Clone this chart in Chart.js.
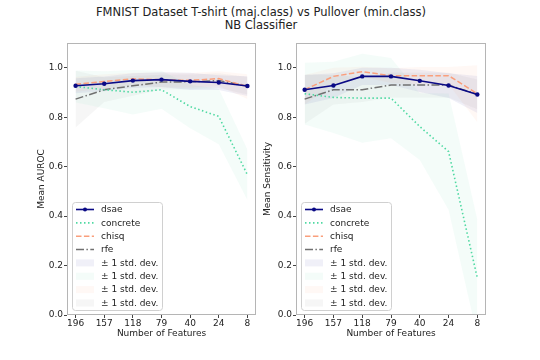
<!DOCTYPE html>
<html><head><meta charset="utf-8">
<script src="https://cdn.jsdelivr.net/npm/chart.js@4.4.1/dist/chart.umd.min.js"></script>
<style>
html,body{margin:0;padding:0;background:#fff;width:540px;height:360px;overflow:hidden;font-family:"DejaVu Sans",sans-serif;}
#title{position:absolute;left:0;top:6px;width:522px;text-align:center;font-size:11.5px;line-height:13px;color:#222;}
#w1{position:absolute;left:0;top:0;width:260px;height:360px;}
#w2{position:absolute;left:255px;top:0;width:285px;height:360px;}
canvas{display:block;}
</style></head><body>
<div id="title">FMNIST Dataset T-shirt (maj.class) vs Pullover (min.class)<br>NB Classifier</div>
<div id="w1"><canvas id="c1" width="260" height="360"></canvas></div>
<div id="w2"><canvas id="c2" width="285" height="360"></canvas></div>
<script>
// ---- data ----
const featureLabels = ['196','157','118','79','40','24','8'];
const yTickValues = [0.0, 0.2, 0.4, 0.6, 0.8, 1.0];
const seriesNames = ['dsae','concrete','chisq','rfe'];
const bandLabel = '\u00b1 1 std. dev.';

// Mean AUROC
const aurocDsae     = [0.927, 0.935, 0.948, 0.952, 0.945, 0.940, 0.926];
const aurocDsaeStd  = [0.030, 0.030, 0.030, 0.030, 0.035, 0.030, 0.040];
const aurocConcrete    = [0.924, 0.911, 0.901, 0.911, 0.843, 0.803, 0.567];
const aurocConcreteStd = [0.065, 0.075, 0.090, 0.077, 0.088, 0.112, 0.102];
const aurocChisq    = [0.933, 0.944, 0.955, 0.951, 0.949, 0.956, 0.924];
const aurocChisqStd = [0.030, 0.030, 0.025, 0.030, 0.030, 0.030, 0.050];
const aurocRfe      = [0.873, 0.911, 0.927, 0.942, 0.943, 0.948, 0.927];
const aurocRfeStd   = [0.115, 0.050, 0.040, 0.030, 0.030, 0.030, 0.035];

// Mean Sensitivity
const sensDsae     = [0.911, 0.928, 0.965, 0.965, 0.947, 0.928, 0.892];
const sensDsaeStd  = [0.060, 0.050, 0.035, 0.035, 0.045, 0.050, 0.075];
const sensConcrete    = [0.895, 0.880, 0.877, 0.877, 0.762, 0.661, 0.149];
const sensConcreteStd = [0.125, 0.144, 0.180, 0.162, 0.135, 0.235, 0.236];
const sensChisq    = [0.911, 0.965, 0.984, 0.968, 0.968, 0.968, 0.895];
const sensChisqStd = [0.060, 0.035, 0.020, 0.030, 0.035, 0.035, 0.115];
const sensRfe      = [0.873, 0.911, 0.911, 0.930, 0.930, 0.930, 0.892];
const sensRfeStd   = [0.100, 0.060, 0.050, 0.050, 0.050, 0.050, 0.060];

// ---- styles ----
const FONT = {family: '"DejaVu Sans", sans-serif', size: 9};
const TEXT = '#222';
const styles = [
  {line: '#0a0a85', band: 'rgba(40,40,150,0.07)', dash: [], width: 1.6, marker: 2.2},
  {line: '#4fd9a2', band: 'rgba(110,220,180,0.08)', dash: [1.5, 2.5], width: 1.6, marker: 0},
  {line: '#fa9f7c', band: 'rgba(255,160,122,0.08)', dash: [5.5, 2.4], width: 1.5, marker: 0},
  {line: '#707070', band: 'rgba(140,140,140,0.08)', dash: [8, 2.4, 1.5, 2.4], width: 1.5, marker: 0}
];

function buildDatasets(means, stds) {
  const ds = [];
  means.forEach((m, k) => {
    const s = stds[k];
    ds.push({label: bandLabel + 'u' + k, data: m.map((v, i) => ({x: i, y: v + s[i]})), fill: '+1',
      backgroundColor: styles[k].band, borderWidth: 0, pointRadius: 0, order: 10});
    ds.push({label: bandLabel + 'l' + k, data: m.map((v, i) => ({x: i, y: v - s[i]})), fill: false,
      borderWidth: 0, pointRadius: 0, order: 10});
  });
  means.forEach((m, k) => {
    ds.push({label: seriesNames[k], data: m.map((v, i) => ({x: i, y: v})), fill: false,
      borderColor: styles[k].line, borderWidth: styles[k].width, borderDash: styles[k].dash,
      borderCapStyle: 'butt', tension: 0,
      pointRadius: styles[k].marker, pointBackgroundColor: styles[k].line, pointBorderColor: styles[k].line,
      pointBorderWidth: 0, order: k === 0 ? 0 : 1});
  });
  return ds;
}

const framePlugin = {
  id: 'frameLegend',
  afterDraw(chart) {
    const ctx = chart.ctx, a = chart.chartArea;
    ctx.save();
    ctx.strokeStyle = '#b5b5b5'; ctx.lineWidth = 1;
    ctx.strokeRect(Math.round(a.left) + 0.5, Math.round(a.top) + 0.5,
      Math.round(a.right - a.left) - 1, Math.round(a.bottom - a.top) - 1);
    // legend
    const bw = 90, bh = 108;
    const bx = a.left + 5, by = a.bottom - 5 - bh;
    ctx.beginPath();
    if (ctx.roundRect) ctx.roundRect(bx + 0.5, by + 0.5, bw, bh, 3); else ctx.rect(bx + 0.5, by + 0.5, bw, bh);
    ctx.fillStyle = 'rgba(255,255,255,0.85)'; ctx.fill();
    ctx.strokeStyle = '#d0d0d0'; ctx.stroke();
    ctx.font = '9px "DejaVu Sans", sans-serif';
    ctx.textBaseline = 'middle'; ctx.textAlign = 'left';
    const rows = [];
    seriesNames.forEach((n, k) => rows.push({type: 'line', k, text: n}));
    seriesNames.forEach((n, k) => rows.push({type: 'band', k, text: bandLabel}));
    rows.forEach((r, i) => {
      const cy = by + 7.5 + i * 13.35;
      const st = styles[r.k];
      if (r.type === 'line') {
        ctx.save();
        ctx.strokeStyle = st.line; ctx.lineWidth = st.width; ctx.setLineDash(st.dash); ctx.lineCap = 'butt';
        ctx.beginPath(); ctx.moveTo(bx + 4, cy); ctx.lineTo(bx + 22, cy); ctx.stroke();
        ctx.restore();
        if (st.marker) {
          ctx.fillStyle = st.line; ctx.beginPath(); ctx.arc(bx + 13, cy, 2, 0, Math.PI * 2); ctx.fill();
        }
      } else {
        ctx.fillStyle = st.band; ctx.fillRect(bx + 4, cy - 3.5, 18, 7);
      }
      ctx.fillStyle = TEXT;
      ctx.fillText(r.text, bx + 29, cy + 0.5);
    });
    ctx.restore();
  }
};

function buildChart(id, yTitle, means, stds, g) {
  return new Chart(document.getElementById(id), {
    type: 'line',
    data: {datasets: buildDatasets(means, stds)},
    options: {
      responsive: false, animation: false, devicePixelRatio: 1,
      layout: {padding: {left: 0, top: 43, right: g.padRight, bottom: 0}},
      plugins: {legend: {display: false}, tooltip: {enabled: false}, filler: {propagate: false}},
      scales: {
        x: {type: 'linear', min: -0.3, max: 6.3,
          afterBuildTicks: s => { s.ticks = featureLabels.map((_, i) => ({value: i})); },
          afterFit: s => { s.height = 45; s.paddingLeft = 0; s.paddingRight = 0; },
          ticks: {callback: v => featureLabels[v], font: FONT, color: TEXT, padding: 0, autoSkip: false, maxRotation: 0},
          grid: {drawOnChartArea: false, drawTicks: true, tickLength: 3, tickColor: '#444', tickWidth: 1},
          border: {display: false},
          title: {display: true, text: 'Number of Features', font: FONT, color: TEXT, padding: {top: 0, bottom: 21}}
        },
        y: {type: 'linear', min: 0, max: 1.1,
          afterBuildTicks: s => { s.ticks = yTickValues.map(v => ({value: v})); },
          afterFit: s => { s.width = g.yWidth; s.paddingTop = 0; s.paddingBottom = 0; },
          ticks: {callback: v => Number(v).toFixed(1), font: FONT, color: TEXT, padding: 1},
          grid: {drawOnChartArea: false, drawTicks: true, tickLength: 3, tickColor: '#444', tickWidth: 1},
          border: {display: false},
          title: {display: true, text: yTitle, font: FONT, color: TEXT, padding: {top: g.yTitlePad, bottom: 0}}
        }
      }
    },
    plugins: [framePlugin]
  });
}

buildChart('c1', 'Mean AUROC',
  [aurocDsae, aurocConcrete, aurocChisq, aurocRfe],
  [aurocDsaeStd, aurocConcreteStd, aurocChisqStd, aurocRfeStd],
  {padRight: 2, yWidth: 67, yTitlePad: 36});
buildChart('c2', 'Mean Sensitivity',
  [sensDsae, sensConcrete, sensChisq, sensRfe],
  [sensDsaeStd, sensConcreteStd, sensChisqStd, sensRfeStd],
  {padRight: 54, yWidth: 41, yTitlePad: 7});
</script>
</body></html>
